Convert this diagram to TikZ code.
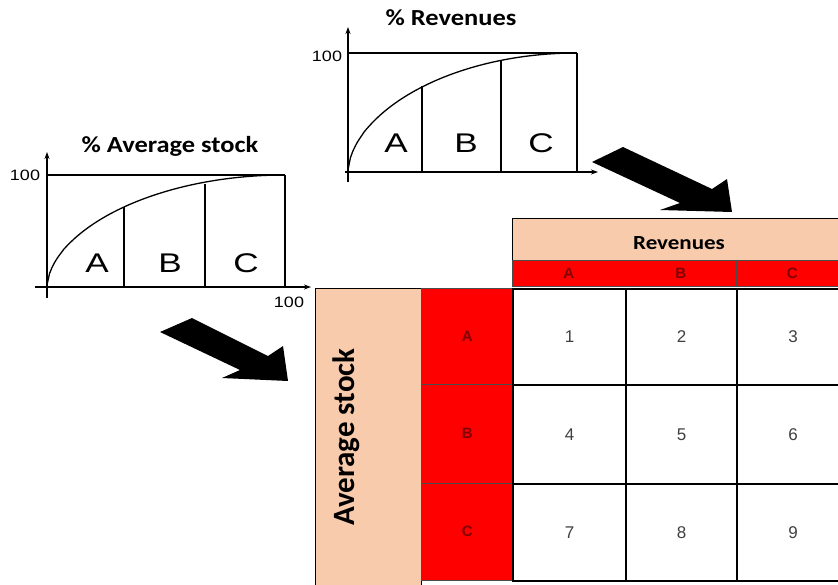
\documentclass[tikz,border=0pt]{standalone}
\usepackage{fontspec}
\setmainfont{Carlito}
\newfontfamily\arialf{Liberation Sans}
\usetikzlibrary{arrows.meta}
\definecolor{peach}{HTML}{F8CBAD}
\definecolor{hdrred}{HTML}{FF0000}
\definecolor{lettred}{HTML}{800000}
\begin{document}
\begin{tikzpicture}[x=1pt,y=-1pt,
  axis/.style={line width=1.1pt,-{Stealth[length=7pt,width=5pt]}},
  chartline/.style={line width=1.1pt},
  curvestyle/.style={line width=1.3pt},
  abc/.style={font=\arialf\fontsize{27}{27}\selectfont,inner sep=0pt},
  hundred/.style={font=\arialf\fontsize{15}{15}\selectfont,inner sep=0pt},
  charttitle/.style={font=\bfseries\fontsize{23}{23}\selectfont,inner sep=0pt},
  peachbox/.style={draw=black,line width=0.8pt,fill=peach,inner sep=0pt,anchor=north west},
  redcell/.style={draw=black!70,line width=0.6pt,fill=hdrred,inner sep=0pt,anchor=north west,
    font=\arialf\bfseries\fontsize{15}{15}\selectfont,text=lettred},
  whitecell/.style={draw=black,line width=2pt,fill=white,inner sep=0pt,anchor=north west,
    font=\arialf\fontsize{17}{17}\selectfont,text=black!75},
  bigarrow/.style={fill=black,draw=none}]
\useasboundingbox (0,0) rectangle (838,584);
\clip (0,0) rectangle (838,584);

% ---------- left chart: % Average stock ----------
\node[charttitle] (t1) at (170,146) {\scalebox{1.15}[1]{\% Average stock}};
\draw[axis] (47,298) -- (47,152);
\draw[axis] (35,287) -- (311,287);
\draw[chartline] (47,175) -- (285,175);
\draw[chartline] (124,287) -- (124,207);
\draw[chartline] (205,287) -- (205,184);
\draw[chartline] (285,287) -- (285,175);
\draw[curvestyle] plot[domain=0.0005:1,samples=100,variable=\t] ({47+238*\t},{287-112*pow(1-(1-\t)*(1-\t),0.55)});
\node[abc] (la) at (97,263) {\scalebox{1.3}[1]{A}};
\node[abc] (lb) at (170,263) {\scalebox{1.3}[1]{B}};
\node[abc] (lc) at (246,263) {\scalebox{1.3}[1]{C}};
\node[hundred] (l100a) at (25,175) {\scalebox{1.2}[1]{100}};
\node[hundred] (l100b) at (289,302) {\scalebox{1.2}[1]{100}};

% ---------- right chart: % Revenues ----------
\node[charttitle] (t2) at (451,18) {\scalebox{1.15}[1]{\% Revenues}};
\draw[axis] (348,182) -- (348,27);
\draw[axis] (345,172) -- (598,172);
\draw[chartline] (348,53) -- (577,53);
\draw[chartline] (422,172) -- (422,86);
\draw[chartline] (501,172) -- (501,60);
\draw[chartline] (577,172) -- (577,53);
\draw[curvestyle] plot[domain=0.0005:1,samples=100,variable=\t] ({348+229*\t},{172-119*pow(1-(1-\t)*(1-\t),0.55)});
\node[abc] (ra) at (396,143) {\scalebox{1.3}[1]{A}};
\node[abc] (rb) at (466,143) {\scalebox{1.3}[1]{B}};
\node[abc] (rc) at (541,143) {\scalebox{1.3}[1]{C}};
\node[hundred] (r100) at (327,56) {\scalebox{1.2}[1]{100}};

% ---------- big arrows ----------
\fill[bigarrow] (160,332) -- (192,318) -- (268,356) -- (283,346) -- (288,381) -- (222,378) -- (240,370) -- cycle;
\fill[bigarrow] (592,162) -- (623,147) -- (712,189) -- (727,179) -- (732,212) -- (660,210) -- (680,203) -- cycle;

% ---------- table ----------
\node[peachbox,minimum width=334pt,minimum height=42pt] (rev) at (512,218) {};
\node[font=\bfseries\fontsize{20}{20}\selectfont] (revt) at (679,243) {\scalebox{1.15}[1]{Revenues}};

\node[redcell,minimum width=113pt,minimum height=26pt] (ha) at (512,260) {A};
\node[redcell,minimum width=111pt,minimum height=26pt] (hb) at (625,260) {B};
\node[redcell,minimum width=112pt,minimum height=26pt] (hc) at (736,260) {C};

\node[peachbox,minimum width=106pt,minimum height=320pt] (avg) at (315,288) {};
\node[rotate=90,font=\bfseries\fontsize{31}{31}\selectfont,inner sep=0pt] (avgt) at (346,437) {Average stock};

\node[redcell,minimum width=92pt,minimum height=96pt] (va) at (421,288) {A};
\node[redcell,minimum width=92pt,minimum height=99pt] (vb) at (421,384) {B};
\node[redcell,minimum width=92pt,minimum height=97pt] (vc) at (421,483) {C};

\node[whitecell,minimum width=113pt,minimum height=96pt] (c1) at (512,288) {1};
\node[whitecell,minimum width=111pt,minimum height=96pt] (c2) at (625,288) {2};
\node[whitecell,minimum width=112pt,minimum height=96pt] (c3) at (736,288) {3};
\node[whitecell,minimum width=113pt,minimum height=99pt] (c4) at (512,384) {4};
\node[whitecell,minimum width=111pt,minimum height=99pt] (c5) at (625,384) {5};
\node[whitecell,minimum width=112pt,minimum height=99pt] (c6) at (736,384) {6};
\node[whitecell,minimum width=113pt,minimum height=97pt] (c7) at (512,483) {7};
\node[whitecell,minimum width=111pt,minimum height=97pt] (c8) at (625,483) {8};
\node[whitecell,minimum width=112pt,minimum height=97pt] (c9) at (736,483) {9};
\end{tikzpicture}
\end{document}
